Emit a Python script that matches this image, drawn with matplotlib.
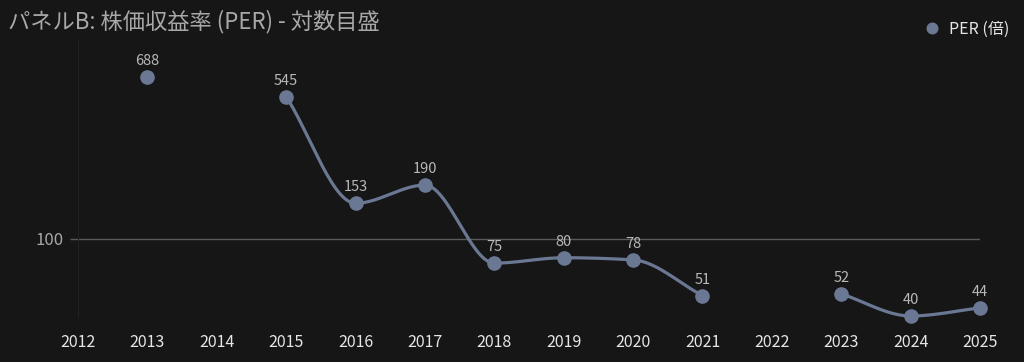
import matplotlib
matplotlib.use('Agg')
import matplotlib.pyplot as plt
import numpy as np

plt.rcParams['font.family'] = ['Noto Sans CJK JP', 'DejaVu Sans']

years = [2012, 2013, 2014, 2015, 2016, 2017, 2018, 2019, 2020, 2021, 2022, 2023, 2024, 2025]
per = [None, 688, None, 545, 153, 190, 75, 80, 78, 51, None, 52, 40, 44]
title = 'パネルB: 株価収益率 (PER) - 対数目盛'
legend_label = 'PER (倍)'

BG = '#161616'
PT = '#6b7894'


def monotone(x, y, n=30):
	# monotone cubic (Fritsch-Carlson) through points, y in log space
	x = np.asarray(x, float)
	y = np.asarray(y, float)
	if len(x) < 2:
		return x, y
	h = np.diff(x)
	d = np.diff(y) / h
	m = np.zeros(len(x))
	m[0] = d[0]
	m[-1] = d[-1]
	for i in range(1, len(x) - 1):
		if d[i - 1] * d[i] <= 0:
			m[i] = 0
		else:
			w1 = 2 * h[i] + h[i - 1]
			w2 = h[i] + 2 * h[i - 1]
			m[i] = (w1 + w2) / (w1 / d[i - 1] + w2 / d[i])
	xs, ys = [], []
	for i in range(len(x) - 1):
		t = np.linspace(0, 1, n)
		h00 = 2 * t**3 - 3 * t**2 + 1
		h10 = t**3 - 2 * t**2 + t
		h01 = -2 * t**3 + 3 * t**2
		h11 = t**3 - t**2
		xs.append(x[i] + t * h[i])
		ys.append(h00 * y[i] + h10 * h[i] * m[i] + h01 * y[i + 1] + h11 * h[i] * m[i + 1])
	return np.concatenate(xs), np.concatenate(ys)


fig = plt.figure(figsize=(10.24, 3.62), dpi=100, facecolor=BG)
ax = fig.add_axes([78 / 1024, 45 / 362, 902 / 1024, 277 / 362])
ax.set_facecolor(BG)
ax.set_yscale('log')
ax.set_xlim(2012, 2025)
ax.set_ylim(39.5, 1069)

# split into continuous runs
runs = []
cur = []
for yr, v in zip(years, per):
	if v is None:
		if cur:
			runs.append(cur)
		cur = []
	else:
		cur.append((yr, v))
if cur:
	runs.append(cur)

for r in runs:
	if len(r) > 1:
		xs, ys = monotone([p[0] for p in r], np.log10([p[1] for p in r]))
		ax.plot(xs, 10**ys, color=PT, lw=2.3, solid_capstyle='round', zorder=2, clip_on=False)

px = [yr for yr, v in zip(years, per) if v is not None]
py = [v for v in per if v is not None]
ax.plot(px, py, 'o', color=PT, ms=9.5, zorder=3, clip_on=False, label=legend_label)
for x, v in zip(px, py):
	ax.annotate(str(v), (x, v), xytext=(0, 6.5), textcoords='offset points',
		ha='center', va='bottom', color='#b8b8b8', fontsize=10.5)

ax.axhline(100, color='#5a5a5a', lw=1, zorder=1)
ax.set_yticks([100])
ax.set_yticklabels(['100'])
ax.yaxis.set_minor_locator(matplotlib.ticker.NullLocator())
ax.tick_params(axis='y', colors='#5a5a5a', labelcolor='#a8a8a8', length=6, width=1, pad=4, labelsize=12)
ax.set_xticks(years)
ax.set_xticklabels([str(y) for y in years])
ax.tick_params(axis='x', length=0, pad=12, labelcolor='#e6e6e6', labelsize=11.5)

for s in ['top', 'right', 'bottom']:
	ax.spines[s].set_visible(False)
ax.spines['left'].set_color('#222222')

fig.text(8 / 1024, 1 - 22 / 362, title, color='#a8a8a8', fontsize=16, va='center', ha='left')
leg = fig.legend(loc='upper right', bbox_to_anchor=(1016 / 1024, 1 - 14 / 362), frameon=False,
	handletextpad=0.1, markerscale=0.8, fontsize=11.5, borderaxespad=0)
for t in leg.get_texts():
	t.set_color('#e6e6e6')

fig.savefig('out.png', dpi=100, facecolor=BG)
